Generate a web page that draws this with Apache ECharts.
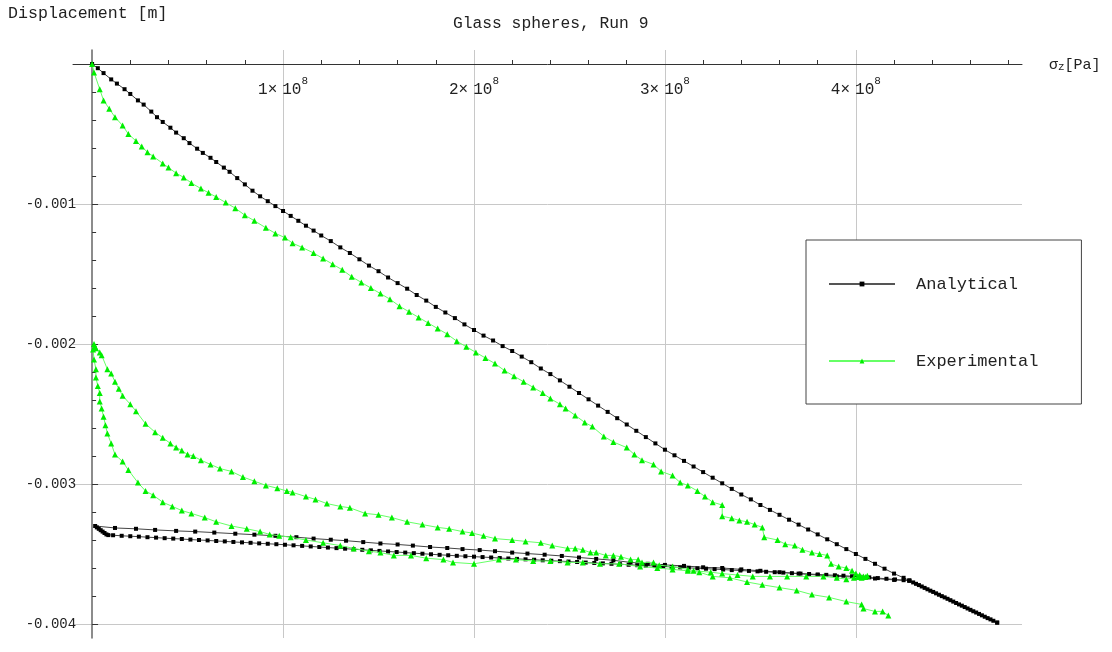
<!DOCTYPE html>
<html>
<head>
<meta charset="utf-8">
<script src="https://cdn.jsdelivr.net/npm/echarts@6/dist/echarts.min.js"></script>
<style>
html,body{margin:0;padding:0;background:#fff;}
#chart{width:1112px;height:652px;}
</style>
</head>
<body>
<div id="chart"></div>
<script>
// Units: stress in 1e8 Pa, displacement in 1e-3 m
const xMajorTicks = [1, 2, 3, 4];
const xMinorTicks = [0.2,0.4,0.6,0.8,1.2,1.4,1.6,1.8,2.2,2.4,2.6,2.8,3.2,3.4,3.6,3.8,4.2,4.4,4.6,4.8];
const yMajorTicks = [-4, -3, -2, -1];
const yMinorTicks = [-3.8,-3.6,-3.4,-3.2,-2.8,-2.6,-2.4,-2.2,-1.8,-1.6,-1.4,-1.2,-0.8,-0.6,-0.4,-0.2];

const analyticalLoading = [
[0,0],[0.03,-0.03],[0.06,-0.065],[0.1,-0.11],[0.13,-0.14],[0.17,-0.18],[0.2,-0.214],[0.24,-0.26],[0.27,-0.29],[0.31,-0.34],
[0.34,-0.38],[0.37,-0.414],[0.41,-0.455],[0.44,-0.49],[0.48,-0.53],[0.51,-0.565],[0.55,-0.605],[0.58,-0.635],[0.62,-0.67],[0.65,-0.70],
[0.69,-0.74],[0.72,-0.77],[0.76,-0.815],[0.8,-0.86],[0.84,-0.905],[0.88,-0.945],[0.92,-0.98],[0.96,-1.015],[1.0,-1.05],[1.04,-1.085],
[1.08,-1.12],[1.12,-1.155],[1.16,-1.19],[1.2,-1.225],[1.25,-1.265],[1.3,-1.31],[1.35,-1.35],[1.4,-1.395],[1.45,-1.44],[1.5,-1.48],
[1.55,-1.525],[1.6,-1.565],[1.65,-1.605],[1.7,-1.65],[1.75,-1.69],[1.8,-1.735],[1.85,-1.775],[1.9,-1.815],[1.95,-1.86],[2.0,-1.9],
[2.05,-1.94],[2.1,-1.975],[2.15,-2.015],[2.2,-2.05],[2.25,-2.09],[2.3,-2.13],[2.35,-2.175],[2.4,-2.215],[2.45,-2.26],[2.5,-2.305],
[2.55,-2.35],[2.6,-2.395],[2.65,-2.44],[2.7,-2.485],[2.75,-2.53],[2.8,-2.575],[2.85,-2.62],[2.9,-2.665],[2.95,-2.71],[3.0,-2.755],
[3.05,-2.795],[3.1,-2.835],[3.15,-2.875],[3.2,-2.915],[3.25,-2.955],[3.3,-2.995],[3.35,-3.035],[3.4,-3.075],[3.45,-3.11],[3.5,-3.15],
[3.55,-3.185],[3.6,-3.22],[3.65,-3.255],[3.7,-3.29],[3.75,-3.325],[3.8,-3.36],[3.85,-3.395],[3.9,-3.43],[3.95,-3.465],[4.0,-3.5],
[4.05,-3.535],[4.1,-3.57],[4.15,-3.605],[4.2,-3.64],[4.25,-3.67],[4.28,-3.69],
[4.3,-3.703],[4.315,-3.713],[4.33,-3.722],[4.345,-3.732],[4.36,-3.742],[4.375,-3.752],[4.39,-3.762],[4.405,-3.771],[4.42,-3.781],[4.435,-3.791],
[4.45,-3.801],[4.465,-3.81],[4.48,-3.82],[4.495,-3.83],[4.51,-3.84],[4.525,-3.85],[4.54,-3.86],[4.555,-3.869],[4.57,-3.879],[4.585,-3.889],
[4.6,-3.899],[4.615,-3.909],[4.63,-3.918],[4.645,-3.928],[4.66,-3.938],[4.675,-3.948],[4.69,-3.958],[4.705,-3.967],[4.72,-3.977],[4.74,-3.99]
];
const analyticalUnloading = [
[4.28,-3.69],[4.2,-3.685],[4.1,-3.675],[4.0,-3.665],[3.9,-3.66],[3.8,-3.65],[3.7,-3.64],[3.6,-3.63],[3.5,-3.62],[3.4,-3.61],
[3.3,-3.6],[3.2,-3.595],[3.1,-3.585],[3.0,-3.578],[2.91,-3.57],[2.82,-3.56],[2.73,-3.545],[2.64,-3.535],[2.55,-3.525],[2.46,-3.514],
[2.37,-3.505],[2.28,-3.497],[2.2,-3.49],[2.11,-3.48],[2.03,-3.472],[1.94,-3.465],[1.86,-3.457],[1.77,-3.45],[1.68,-3.44],[1.6,-3.432],
[1.51,-3.425],[1.42,-3.415],[1.33,-3.405],[1.25,-3.398],[1.16,-3.39],[1.07,-3.38],[0.96,-3.37],[0.85,-3.362],[0.75,-3.355],[0.64,-3.347],
[0.54,-3.34],[0.44,-3.335],[0.33,-3.328],[0.23,-3.32],[0.12,-3.314],[0.016,-3.30],
[0.025,-3.31],[0.035,-3.32],[0.045,-3.33],[0.055,-3.34],[0.065,-3.35],[0.075,-3.36],[0.085,-3.365]
];
const analyticalReloading = [
[0.11,-3.366],[0.155,-3.370],[0.2,-3.373],[0.245,-3.376],[0.29,-3.380],[0.335,-3.383],[0.38,-3.387],[0.425,-3.390],[0.47,-3.393],[0.515,-3.397],
[0.56,-3.400],[0.605,-3.403],[0.65,-3.407],[0.695,-3.410],[0.74,-3.414],[0.785,-3.417],[0.83,-3.420],[0.875,-3.424],[0.92,-3.427],[0.965,-3.430],
[1.01,-3.434],[1.055,-3.438],[1.1,-3.442],[1.145,-3.446],[1.19,-3.450],[1.235,-3.454],[1.28,-3.458],[1.325,-3.462],[1.37,-3.466],[1.415,-3.470],
[1.46,-3.474],[1.505,-3.478],[1.55,-3.482],[1.595,-3.486],[1.64,-3.490],[1.685,-3.494],[1.73,-3.498],[1.775,-3.502],[1.82,-3.506],[1.865,-3.509],
[1.91,-3.513],[1.955,-3.516],[2.0,-3.519],[2.045,-3.522],[2.09,-3.525],[2.135,-3.529],[2.18,-3.532],[2.225,-3.535],[2.27,-3.538],[2.315,-3.541],
[2.36,-3.545],[2.405,-3.548],[2.45,-3.551],[2.495,-3.554],[2.54,-3.557],[2.585,-3.561],[2.63,-3.564],[2.675,-3.567],[2.72,-3.570],[2.765,-3.573],
[2.81,-3.577],[2.855,-3.580],[2.9,-3.583],[2.945,-3.586],[2.99,-3.589],[3.035,-3.592],[3.08,-3.596],[3.125,-3.599],[3.17,-3.602],[3.215,-3.605],
[3.26,-3.608],[3.305,-3.611],[3.35,-3.615],[3.395,-3.618],[3.44,-3.621],[3.485,-3.624],[3.53,-3.627],[3.575,-3.630],[3.62,-3.633],[3.665,-3.637],
[3.71,-3.640],[3.755,-3.643],[3.8,-3.646],[3.845,-3.649],[3.89,-3.652],[3.935,-3.655],[3.98,-3.659],[4.025,-3.663],[4.07,-3.667],[4.115,-3.672],
[4.16,-3.677],[4.205,-3.682],[4.25,-3.687],[4.28,-3.69],[4.74,-3.99]
];

const experimentalLoading = [
[0,0],[0.01,-0.06],[0.04,-0.18],[0.06,-0.26],[0.09,-0.32],[0.12,-0.38],[0.16,-0.44],[0.19,-0.50],[0.23,-0.55],[0.26,-0.59],
[0.29,-0.63],[0.32,-0.66],[0.37,-0.71],[0.40,-0.74],[0.44,-0.78],[0.48,-0.81],[0.52,-0.85],[0.57,-0.89],[0.61,-0.92],[0.65,-0.95],
[0.70,-0.99],[0.75,-1.03],[0.80,-1.08],[0.85,-1.12],[0.91,-1.17],[0.96,-1.21],[1.01,-1.24],[1.05,-1.28],[1.10,-1.31],[1.16,-1.35],
[1.21,-1.39],[1.26,-1.43],[1.31,-1.47],[1.36,-1.52],[1.41,-1.56],[1.46,-1.60],[1.51,-1.64],[1.56,-1.68],[1.61,-1.73],[1.66,-1.77],
[1.71,-1.81],[1.76,-1.85],[1.81,-1.89],[1.86,-1.93],[1.91,-1.98],[1.96,-2.02],[2.01,-2.06],[2.06,-2.10],[2.11,-2.14],[2.16,-2.19],
[2.21,-2.23],[2.26,-2.27],[2.31,-2.31],[2.36,-2.35],[2.40,-2.39],[2.45,-2.43],[2.48,-2.46],[2.53,-2.51],[2.58,-2.56],[2.62,-2.59],
[2.68,-2.66],[2.73,-2.70],[2.80,-2.74],[2.84,-2.79],[2.88,-2.83],[2.94,-2.86],[2.98,-2.91],[3.04,-2.94],[3.08,-2.99],[3.12,-3.01],
[3.17,-3.05],[3.21,-3.09],[3.25,-3.13],[3.30,-3.15],[3.30,-3.23],[3.35,-3.245],[3.39,-3.26],[3.43,-3.27],[3.47,-3.29],[3.51,-3.31],
[3.52,-3.38],[3.59,-3.40],[3.63,-3.43],[3.68,-3.44],[3.72,-3.47],[3.77,-3.49],[3.81,-3.50],[3.85,-3.51],[3.87,-3.57],[3.91,-3.59],
[3.95,-3.60],[3.98,-3.62],[4.00,-3.64],[4.02,-3.65],[4.04,-3.66],[4.06,-3.655],[4.05,-3.665],[4.03,-3.67],[4.01,-3.665],[3.99,-3.67]
];
const experimentalUnloading = [
[3.95,-3.68],[3.90,-3.67],[3.83,-3.66],[3.74,-3.66],[3.64,-3.66],[3.55,-3.66],[3.46,-3.66],[3.38,-3.65],[3.30,-3.64],[3.24,-3.63],
[3.15,-3.62],[3.12,-3.61],[3.04,-3.59],[2.97,-3.58],[2.94,-3.56],[2.88,-3.56],[2.86,-3.54],[2.82,-3.54],[2.77,-3.52],[2.73,-3.51],
[2.69,-3.51],[2.64,-3.49],[2.61,-3.49],[2.57,-3.47],[2.53,-3.46],[2.49,-3.46],[2.41,-3.44],[2.35,-3.42],[2.27,-3.41],[2.20,-3.40],
[2.11,-3.39],[2.05,-3.37],[1.99,-3.35],[1.94,-3.34],[1.87,-3.32],[1.81,-3.31],[1.73,-3.29],[1.65,-3.27],[1.57,-3.24],[1.50,-3.22],
[1.43,-3.21],[1.35,-3.17],[1.30,-3.16],[1.23,-3.14],[1.17,-3.11],[1.12,-3.09],[1.05,-3.06],[1.02,-3.05],[0.97,-3.03],[0.91,-3.01],
[0.85,-2.98],[0.79,-2.95],[0.73,-2.91],[0.67,-2.89],[0.62,-2.86],[0.57,-2.83],[0.53,-2.80],[0.50,-2.79],[0.47,-2.76],[0.44,-2.74],
[0.41,-2.71],[0.37,-2.67],[0.33,-2.63],[0.28,-2.57],[0.23,-2.48],[0.20,-2.43],[0.16,-2.37],[0.14,-2.32],[0.12,-2.27],[0.10,-2.21],
[0.08,-2.18],[0.05,-2.08],[0.04,-2.06],[0.02,-2.03],[0.01,-2.0],[0.015,-2.02],[0.005,-2.04]
];
const experimentalReloading = [
[0.01,-2.11],[0.02,-2.18],[0.02,-2.24],[0.03,-2.30],[0.04,-2.35],[0.04,-2.41],[0.05,-2.46],[0.06,-2.52],[0.07,-2.58],[0.08,-2.64],
[0.10,-2.71],[0.12,-2.79],[0.16,-2.84],[0.19,-2.90],[0.24,-2.99],[0.28,-3.05],[0.32,-3.08],[0.37,-3.13],[0.42,-3.16],[0.47,-3.19],
[0.52,-3.21],[0.59,-3.24],[0.65,-3.27],[0.73,-3.30],[0.81,-3.32],[0.88,-3.34],[0.93,-3.36],[0.98,-3.37],[1.04,-3.38],[1.12,-3.40],
[1.21,-3.42],[1.30,-3.44],[1.37,-3.46],[1.45,-3.48],[1.51,-3.49],[1.58,-3.51],[1.67,-3.51],[1.75,-3.53],[1.84,-3.54],[1.89,-3.56],
[2.00,-3.57],[2.13,-3.54],[2.22,-3.54],[2.31,-3.55],[2.40,-3.55],[2.49,-3.56],[2.57,-3.56],[2.66,-3.57],[2.76,-3.57],[2.87,-3.59],
[2.96,-3.60],[3.04,-3.61],[3.12,-3.62],[3.18,-3.63],[3.25,-3.66],[3.34,-3.67],[3.43,-3.70],[3.51,-3.72],[3.60,-3.74],[3.69,-3.76],
[3.77,-3.79],[3.86,-3.81],[3.95,-3.84],[4.03,-3.86],[4.04,-3.89],[4.10,-3.91],[4.14,-3.91],[4.17,-3.94]
];

const FONT = '"Liberation Mono", "DejaVu Sans Mono", monospace';
const chart = echarts.init(document.getElementById('chart'), null, {renderer: 'canvas'});

const analyticalData = analyticalLoading.concat(analyticalUnloading, analyticalReloading);
const experimentalData = experimentalLoading.concat(experimentalUnloading, experimentalReloading);

const X_MIN = -0.1, X_MAX = 4.87, Y_MIN = -4.1, Y_MAX = 0.1;

const option = {
  backgroundColor: '#fff',
  animation: false,
  title: {
    text: 'Glass spheres, Run 9',
    left: 453, top: 16, padding: 0,
    textStyle: {fontFamily: FONT, fontSize: 16.3, fontWeight: 'normal', color: '#222'}
  },
  legend: {
    orient: 'vertical', left: 806, top: 240,
    padding: [35, 43, 34, 22], itemGap: 59, itemWidth: 66, itemHeight: 6,
    borderColor: '#444', borderWidth: 1, backgroundColor: '#fff',
    textStyle: {fontFamily: FONT, fontSize: 17, color: '#222', padding: [0, 0, 0, 16], lineHeight: 18},
    data: [
      {name: 'Analytical', lineStyle: {color: '#555', width: 2}},
      {name: 'Experimental', lineStyle: {color: '#66ff66', width: 2}}
    ]
  },
  grid: [
    {left: 73, right: 90, top: 50, bottom: 14, containLabel: false, outerBoundsMode: 'none'},
    // label grid: its left/top edges sit exactly on x = 0 and y = 0 of the main grid
    {left: 92.09, right: 90, top: 64, bottom: 14, containLabel: false, outerBoundsMode: 'none'}
  ],
  xAxis: [{
    gridIndex: 0, type: 'value', min: X_MIN, max: X_MAX, position: 'bottom',
    name: '{s|σ}{z|z}{s|[Pa]}', nameLocation: 'end', nameGap: 27,
    nameTextStyle: {
      verticalAlign: 'middle',
      rich: {
        s: {fontFamily: FONT, fontSize: 15, color: '#222', verticalAlign: 'bottom', lineHeight: 17},
        z: {fontFamily: FONT, fontSize: 11, color: '#222', verticalAlign: 'bottom', lineHeight: 13}
      }
    },
    axisLine: {onZero: true, onZeroAxisIndex: 0, lineStyle: {color: '#333', width: 1}},
    axisTick: {show: false, customValues: xMajorTicks},
    axisLabel: {show: false},
    splitLine: {show: true, lineStyle: {color: '#c8c8c8', width: 1}}
  }, {
    gridIndex: 0, type: 'value', min: X_MIN, max: X_MAX, position: 'bottom',
    axisLine: {show: false, onZero: true, onZeroAxisIndex: 0},
    axisTick: {show: true, inside: true, length: 4, customValues: xMinorTicks, lineStyle: {color: '#333'}},
    axisLabel: {show: false},
    splitLine: {show: false}
  }, {
    gridIndex: 1, type: 'value', min: 0, max: X_MAX, position: 'top',
    axisLine: {show: false, onZero: false},
    axisTick: {show: false},
    axisLabel: {
      inside: true, customValues: xMajorTicks, margin: 12,
      formatter: v => '{a|' + v + '×}{b|10}{s|8}',
      rich: {
        a: {fontFamily: FONT, fontSize: 16, color: '#222', verticalAlign: 'bottom', lineHeight: 22},
        b: {fontFamily: FONT, fontSize: 16, color: '#222', verticalAlign: 'bottom', lineHeight: 22, padding: [0, 0, 0, 5]},
        s: {fontFamily: FONT, fontSize: 11, color: '#222', verticalAlign: 'top', lineHeight: 11}
      }
    },
    splitLine: {show: false}
  }],
  yAxis: [{
    gridIndex: 0, type: 'value', min: Y_MIN, max: Y_MAX, position: 'left',
    name: 'Displacement [m]', nameLocation: 'end', nameGap: 36,
    nameTextStyle: {fontFamily: FONT, fontSize: 16.6, color: '#222', align: 'left', verticalAlign: 'middle', padding: [0, 0, 0, -84]},
    axisLine: {onZero: true, onZeroAxisIndex: 0, lineStyle: {color: '#666', width: 1.5}},
    axisTick: {show: true, inside: true, length: 6, customValues: yMajorTicks, lineStyle: {color: '#333'}},
    axisLabel: {show: false},
    splitLine: {show: true, lineStyle: {color: '#c8c8c8', width: 1}}
  }, {
    gridIndex: 0, type: 'value', min: Y_MIN, max: Y_MAX, position: 'left',
    axisLine: {show: false, onZero: true, onZeroAxisIndex: 0},
    axisTick: {show: true, inside: true, length: 4, customValues: yMinorTicks, lineStyle: {color: '#333'}},
    axisLabel: {show: false},
    splitLine: {show: false}
  }, {
    gridIndex: 1, type: 'value', min: Y_MIN, max: 0, position: 'left',
    axisLine: {show: false, onZero: false},
    axisTick: {show: false},
    axisLabel: {
      customValues: yMajorTicks, margin: 16,
      fontFamily: FONT, fontSize: 14, color: '#222',
      formatter: v => (v / 1000).toFixed(3)
    },
    splitLine: {show: false}
  }],
  series: [{
    name: 'Analytical', type: 'line', xAxisIndex: 0, yAxisIndex: 0,
    data: analyticalData,
    symbol: 'rect', symbolSize: 4,
    itemStyle: {color: '#000'},
    lineStyle: {color: '#444', width: 1},
    emphasis: {disabled: true}, z: 3
  }, {
    name: 'Experimental', type: 'line', xAxisIndex: 0, yAxisIndex: 0,
    data: experimentalData,
    symbol: 'triangle', symbolSize: 6,
    itemStyle: {color: '#00ee00'},
    lineStyle: {color: '#66ff66', width: 1},
    emphasis: {disabled: true}, z: 4
  }]
};
chart.setOption(option);
</script>
</body>
</html>
